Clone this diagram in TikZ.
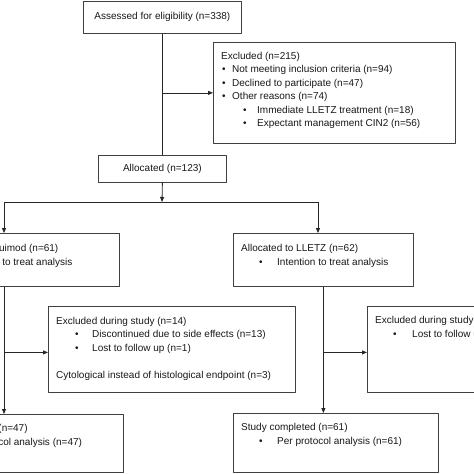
\documentclass[tikz,border=0pt]{standalone}
\usepackage{fontspec}
\setmainfont{Liberation Sans}
\usetikzlibrary{arrows.meta}

% bullet line: indent to bullet, indent to text, text
\newcommand\bul[3]{\makebox[#2][l]{\hspace*{#1}\textbullet}#3}

\begin{document}
\begin{tikzpicture}[
    x=1pt, y=-1pt,
    line join=round,
    font=\fontsize{10}{13.5}\selectfont,
    box/.style={draw=black!75, line width=0.8pt, inner sep=0pt, anchor=north west, text=black!90},
    % text blocks are placed by the baseline of their last line
    txt/.style={text=black!90, align=left, inner sep=0pt, anchor=base west},
    link/.style={draw=black!85, line width=0.8pt},
    arr/.style={link, -{Triangle[length=5pt, width=4pt]}},
]

% ---- canvas (picture is cut off at the sides) ----
\useasboundingbox (0,0) rectangle (474,474);
\clip (0,0) rectangle (474,474);
\fill[white] (0,0) rectangle (474,474);

% ---- enrolment ----
\node[box, minimum width=158pt, minimum height=32pt] (assess) at (83,1) {Assessed for eligibility (n=338)};

\node[box, minimum width=242pt, minimum height=101pt] (excl) at (213,42) {};
\node[txt] (exclT) at (221,126.5) {Excluded (n=215)\\
    \bul{1pt}{11pt}{Not meeting inclusion criteria (n=94)}\\
    \bul{1pt}{11pt}{Declined to participate (n=47)}\\
    \bul{1pt}{11pt}{Other reasons (n=74)}\\
    \bul{22pt}{36pt}{Immediate LLETZ treatment (n=18)}\\
    \bul{22pt}{36pt}{Expectant management CIN2 (n=56)}};

\node[box, minimum width=128pt, minimum height=27pt] (alloc) at (98,155) {Allocated (n=123)};

% ---- allocation ----
\node[box, minimum width=202pt, minimum height=53pt] (imiq) at (-83,233) {};
\node[txt] (imiqT) at (-75,265) {Allocated to Imiquimod (n=61)\\
    \bul{18pt}{36pt}{Intention to treat analysis}};

\node[box, minimum width=180pt, minimum height=53pt] (lletz) at (233,233) {};
\node[txt] (lletzT) at (241,265) {Allocated to LLETZ (n=62)\\
    \bul{18pt}{36pt}{Intention to treat analysis}};

% ---- follow up ----
\node[box, minimum width=247pt, minimum height=86pt] (exclL) at (48,306) {};
\node[txt] (exclLT) at (56,378) {Excluded during study (n=14)\\
    \bul{19pt}{36pt}{Discontinued due to side effects (n=13)}\\
    \bul{19pt}{36pt}{Lost to follow up (n=1)}\\[13.5pt]
    Cytological instead of histological endpoint (n=3)};

\node[box, minimum width=160pt, minimum height=86pt] (exclR) at (367,306) {};
\node[txt] (exclRT) at (375,337) {Excluded during study\\
    \bul{18pt}{37pt}{Lost to follow up}};

% ---- analysis ----
\node[box, minimum width=210pt, minimum height=58pt] (compL) at (-87,414) {};
\node[txt] (compLT) at (-79,445) {Study completed (n=47)\\
    \bul{18pt}{36pt}{Per protocol analysis (n=47)}};

\node[box, minimum width=205pt, minimum height=59pt] (compR) at (233,413) {};
\node[txt] (compRT) at (241,444) {Study completed (n=61)\\
    \bul{18pt}{36pt}{Per protocol analysis (n=61)}};

% ---- connectors ----
\coordinate (split) at (162,202);
\coordinate (lsplit) at (4,202);
\coordinate (rsplit) at (318,202);

\draw[link] (assess.south) -- (assess.south |- alloc.north);
\draw[arr] (assess.south |- excl.west) -- (excl.west);

\draw[arr] (alloc.south) -- (split);
\draw[link] (lsplit) -- (rsplit);
\draw[arr] (lsplit) -- (lsplit |- imiq.north);
\draw[arr] (rsplit) -- (rsplit |- lletz.north);

\draw[arr] (lsplit |- imiq.south) -- (lsplit |- compL.north);
\draw[arr] ([yshift=-3pt]lsplit |- exclL.west) -- ([yshift=-3pt]exclL.west);

\draw[arr] (lletz.south) -- (lletz.south |- compR.north);
\draw[arr] ([yshift=-3pt]lletz.south |- exclR.west) -- ([yshift=-3pt]exclR.west);

\end{tikzpicture}
\end{document}
